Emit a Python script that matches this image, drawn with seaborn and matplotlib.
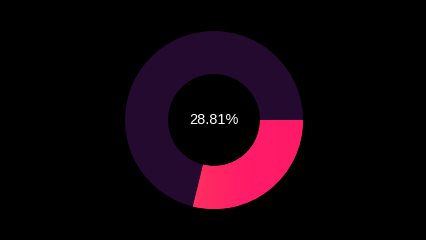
import numpy as np
import matplotlib
matplotlib.use("Agg")
import matplotlib.pyplot as plt
import seaborn as sns
from matplotlib.colors import LinearSegmentedColormap

labels = ["Share", "Rest"]
values = [28.81, 71.19]
center_label = "28.81%"
colors = ["#ff1c68", "#230a2e"]

sns.set_theme(style="dark", rc={"axes.facecolor": "black", "figure.facecolor": "black"})
plt.rcParams['font.family'] = ['Liberation Sans', 'DejaVu Sans']

fig = plt.figure(figsize=(4.27, 2.4), dpi=100)
ax = fig.add_axes([0, 0, 1, 1])
ax.set_facecolor("black")

wedges, _ = ax.pie(values, colors=colors, startangle=0, counterclock=False,
                   radius=89, wedgeprops=dict(width=43, linewidth=0),
                   center=(0, 0))

# subtle gradient on highlighted segment
grad = LinearSegmentedColormap.from_list("g", ["#ff3060", "#ff1c68", "#ff1a68"])
img = ax.imshow(np.linspace(0, 1, 256).reshape(1, -1), cmap=grad,
                extent=(-25, 90, -90, 5), aspect="auto", zorder=wedges[0].get_zorder() + 0.1)
img.set_clip_path(wedges[0])

ax.text(0, 0, center_label, ha="center", va="center", color="white", fontsize=10.5)

ax.set_xlim(-214, 213)
ax.set_ylim(-120, 120)
ax.set_aspect("equal")
ax.axis("off")
fig.savefig("out.png", dpi=100, facecolor="black")
